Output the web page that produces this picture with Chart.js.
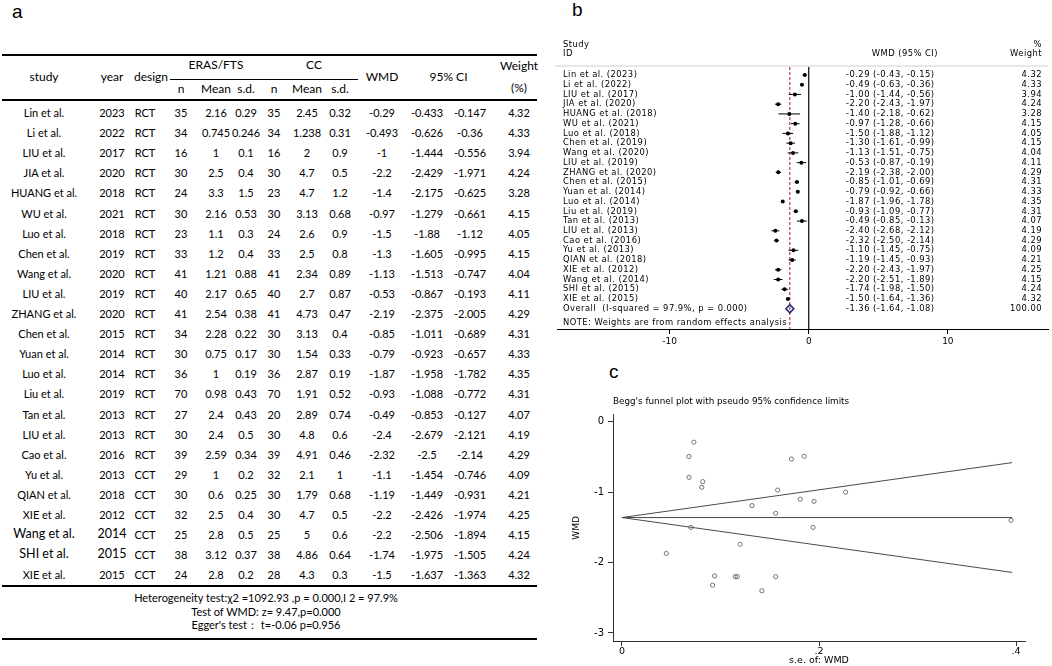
<!DOCTYPE html>
<html>
<head>
<meta charset="utf-8">
<title>ERAS/FTS vs CC meta-analysis</title>
<script src="https://cdn.jsdelivr.net/npm/chart.js@4.4.1/dist/chart.umd.min.js"></script>
<style>
  html, body { margin: 0; padding: 0; background: #fff; }
  #page { position: relative; width: 1052px; height: 666px; overflow: hidden; font-family: Lato, "Noto Sans", sans-serif; color: #000; }
  .panel-label { position: absolute; font-family: "Liberation Sans", Arial, sans-serif; font-size: 19px; line-height: 1; color: #000; }
  .cell { position: absolute; transform: translate(-50%, -50%); white-space: nowrap; font-size: 11px; line-height: 1; }
  .head { font-size: 12px; }
  .rule { position: absolute; background: #000; }
  #forest-chart { position: absolute; left: 540px; top: 0; }
  #funnel-chart { position: absolute; left: 540px; top: 360px; }
</style>
</head>
<body>
<div id="page">
  <div class="panel-label" style="left:12px; top:2px;">a</div>
  <div class="panel-label" style="left:572px; top:0px;">b</div>
  <div class="panel-label" style="left:609px; top:362px;">c</div>
  <div id="table-a"></div>
  <canvas id="forest-chart" width="512" height="352"></canvas>
  <canvas id="funnel-chart" width="512" height="306"></canvas>
</div>

<script>
// Table (a) data
const studies = ["Lin et al.", "Li et al.", "LIU et al.", "JIA et al.", "HUANG et al.", "WU et al.", "Luo et al.", "Chen et al.", "Wang et al.", "LIU et al.", "ZHANG et al.", "Chen et al.", "Yuan et al.", "Luo et al.", "Liu et al.", "Tan et al.", "LIU et al.", "Cao et al.", "Yu et al.", "QIAN et al.", "XIE et al.", "Wang et al.", "SHI et al.", "XIE et al."];
const years = [2023, 2022, 2017, 2020, 2018, 2021, 2018, 2019, 2020, 2019, 2020, 2015, 2014, 2014, 2019, 2013, 2013, 2016, 2013, 2018, 2012, 2014, 2015, 2015];
const designs = ["RCT", "RCT", "RCT", "RCT", "RCT", "RCT", "RCT", "RCT", "RCT", "RCT", "RCT", "RCT", "RCT", "RCT", "RCT", "RCT", "RCT", "RCT", "CCT", "CCT", "CCT", "CCT", "CCT", "CCT"];
const erasN = [35, 34, 16, 30, 24, 30, 23, 33, 41, 40, 41, 34, 30, 36, 70, 27, 30, 39, 29, 30, 32, 25, 38, 24];
const erasMean = [2.16, 0.745, 1, 2.5, 3.3, 2.16, 1.1, 1.2, 1.21, 2.17, 2.54, 2.28, 0.75, 1, 0.98, 2.4, 2.4, 2.59, 1, 0.6, 2.5, 2.8, 3.12, 2.8];
const erasSd = [0.29, 0.246, 0.1, 0.4, 1.5, 0.53, 0.3, 0.4, 0.88, 0.65, 0.38, 0.22, 0.17, 0.19, 0.43, 0.43, 0.5, 0.34, 0.2, 0.25, 0.4, 0.5, 0.37, 0.2];
const ccN = [35, 34, 16, 30, 23, 30, 24, 33, 41, 40, 41, 30, 30, 36, 70, 20, 30, 39, 32, 30, 30, 25, 38, 28];
const ccMean = [2.45, 1.238, 2, 4.7, 4.7, 3.13, 2.6, 2.5, 2.34, 2.7, 4.73, 3.13, 1.54, 2.87, 1.91, 2.89, 4.8, 4.91, 2.1, 1.79, 4.7, 5, 4.86, 4.3];
const ccSd = [0.32, 0.31, 0.9, 0.5, 1.2, 0.68, 0.9, 0.8, 0.89, 0.87, 0.47, 0.4, 0.33, 0.19, 0.52, 0.74, 0.6, 0.46, 1, 0.68, 0.5, 0.6, 0.64, 0.3];
const wmdValues = [-0.29, -0.493, -1, -2.2, -1.4, -0.97, -1.5, -1.3, -1.13, -0.53, -2.19, -0.85, -0.79, -1.87, -0.93, -0.49, -2.4, -2.32, -1.1, -1.19, -2.2, -2.2, -1.74, -1.5];
const ciLow = [-0.433, -0.626, -1.444, -2.429, -2.175, -1.279, -1.88, -1.605, -1.513, -0.867, -2.375, -1.011, -0.923, -1.958, -1.088, -0.853, -2.679, -2.5, -1.454, -1.449, -2.426, -2.506, -1.975, -1.637];
const ciHigh = [-0.147, -0.36, -0.556, -1.971, -0.625, -0.661, -1.12, -0.995, -0.747, -0.193, -2.005, -0.689, -0.657, -1.782, -0.772, -0.127, -2.121, -2.14, -0.746, -0.931, -1.974, -1.894, -1.505, -1.363];
const weights = [4.32, 4.33, 3.94, 4.24, 3.28, 4.15, 4.05, 4.15, 4.04, 4.11, 4.29, 4.31, 4.33, 4.35, 4.31, 4.07, 4.19, 4.29, 4.09, 4.21, 4.25, 4.15, 4.24, 4.32];
const footerLines = ["Heterogeneity test:χ2 =1092.93  ,p = 0.000,I 2 = 97.9%", "Test of WMD: z= 9.47,p=0.000", "Egger's test： t=-0.06  p=0.956"];

// Forest plot (b) data
const forestEst = [-0.29, -0.49, -1.00, -2.20, -1.40, -0.97, -1.50, -1.30, -1.13, -0.53, -2.19, -0.85, -0.79, -1.87, -0.93, -0.49, -2.40, -2.32, -1.10, -1.19, -2.20, -2.20, -1.74, -1.50];
const forestLow = [-0.43, -0.63, -1.44, -2.43, -2.18, -1.28, -1.88, -1.61, -1.51, -0.87, -2.38, -1.01, -0.92, -1.96, -1.09, -0.85, -2.68, -2.50, -1.45, -1.45, -2.43, -2.51, -1.98, -1.64];
const forestHigh = [-0.15, -0.36, -0.56, -1.97, -0.62, -0.66, -1.12, -0.99, -0.75, -0.19, -2.00, -0.69, -0.66, -1.78, -0.77, -0.13, -2.12, -2.14, -0.75, -0.93, -1.97, -1.89, -1.50, -1.36];
const overallEst = -1.36;
const overallLow = -1.64;
const overallHigh = -1.08;
const overallWeight = "100.00";
const forestTicks = [-10, 0, 10];

// Funnel plot (c) data
const seValues = [0.073, 0.068, 0.227, 0.117, 0.395, 0.158, 0.194, 0.156, 0.195, 0.172, 0.094, 0.082, 0.068, 0.045, 0.081, 0.185, 0.142, 0.092, 0.181, 0.132, 0.115, 0.156, 0.120, 0.070];
const limitSe = [0, 0.396];
const upperLimit = [-1.36, -0.58];
const lowerLimit = [-1.36, -2.14];
const pooledLine = [-1.36, -1.36];
const funnelXTicks = [0, 0.2, 0.4];
const funnelXLabels = ["0", ".2", ".4"];
const funnelYTicks = [0, -1, -2, -3];

const STATA_FONT = "'DejaVu Sans', Verdana, sans-serif";

// Table (a) built from absolutely placed text
function setupTable() {
  const host = document.getElementById("table-a");
  const colX = [44, 112, 145, 181, 216, 246, 274, 307, 340, 382, 427, 470, 519];
  const rowY0 = 112;
  const rowStep = 20.1;

  const addText = (text, x, y, cls, extra) => {
    const el = document.createElement("div");
    el.className = "cell " + (cls || "");
    el.textContent = text;
    el.style.left = x + "px";
    el.style.top = y + "px";
    if (extra) Object.assign(el.style, extra);
    host.appendChild(el);
  };
  const addRule = (x1, x2, y, h) => {
    const el = document.createElement("div");
    el.className = "rule";
    el.style.left = x1 + "px";
    el.style.width = x2 - x1 + "px";
    el.style.top = y - h / 2 + "px";
    el.style.height = h + "px";
    host.appendChild(el);
  };

  // header
  addRule(2, 537, 55, 2.5);
  addText("study", colX[0], 77, "head");
  addText("year", colX[1], 77, "head");
  addText("design", 151, 77, "head");
  addText("ERAS/FTS", colX[4], 65, "head");
  addText("CC", 314, 65, "head");
  addRule(170, 358, 79, 1);
  ["n", "Mean", "s.d.", "n", "Mean", "s.d."].forEach((t, k) => addText(t, colX[3 + k], 89, "head"));
  addText("WMD", colX[9], 77, "head");
  addText("95% CI", (colX[10] + colX[11]) / 2, 77, "head");
  addText("Weight", colX[12], 66, "head");
  addText("(%)", colX[12], 88, "head");
  addRule(2, 537, 100, 1.5);

  // body rows
  studies.forEach((name, i) => {
    const y = rowY0 + i * rowStep;
    const big = i === 21 || i === 22 ? { fontSize: "12.5px" } : null;
    const cells = [name, years[i], designs[i], erasN[i], erasMean[i], erasSd[i], ccN[i], ccMean[i], ccSd[i], wmdValues[i], ciLow[i], ciHigh[i], weights[i].toFixed(2)];
    cells.forEach((v, k) => addText(String(v), colX[k], y, "", k < 2 ? big : null));
  });

  addRule(2, 537, 586, 2);
  footerLines.forEach((t, k) => addText(t, 266, 597 + k * 13.5, ""));
  addRule(2, 537, 639, 2);
}

// Forest plot decorations: reference lines, CI whiskers, diamond and text columns
const forestDecor = {
  id: "forestDecor",
  beforeDatasetsDraw(chart) {
    const { ctx, chartArea, scales: { x } } = chart;
    const top = chartArea.top + 31;
    ctx.save();
    ctx.strokeStyle = "#000";
    ctx.lineWidth = 1.2;
    ctx.beginPath();
    ctx.moveTo(x.getPixelForValue(0), top);
    ctx.lineTo(x.getPixelForValue(0), chartArea.bottom);
    ctx.stroke();

    ctx.strokeStyle = "#a3162b";
    ctx.lineWidth = 1;
    ctx.setLineDash([3, 2]);
    ctx.beginPath();
    ctx.moveTo(x.getPixelForValue(overallEst), top);
    ctx.lineTo(x.getPixelForValue(overallEst), chartArea.bottom);
    ctx.stroke();
    ctx.restore();

    ctx.save();
    ctx.strokeStyle = "#000";
    ctx.lineWidth = 1;
    forestLow.forEach((lo, i) => {
      const py = chart.scales.y.getPixelForValue(i);
      ctx.beginPath();
      ctx.moveTo(x.getPixelForValue(lo), py);
      ctx.lineTo(x.getPixelForValue(forestHigh[i]), py);
      ctx.stroke();
    });
    ctx.restore();
  },
  afterDatasetsDraw(chart) {
    const { ctx, chartArea, scales: { x, y } } = chart;
    const n = forestEst.length;
    const labelX = chartArea.left + 6;
    const ciX = chartArea.left + 289;
    const ciRight = chartArea.left + 381;
    const wRight = chartArea.right - 6;

    // overall diamond
    const dy = y.getPixelForValue(n);
    ctx.save();
    ctx.strokeStyle = "#26267a";
    ctx.lineWidth = 1.6;
    ctx.beginPath();
    ctx.moveTo(x.getPixelForValue(overallLow), dy);
    ctx.lineTo(x.getPixelForValue(overallEst), dy - 4);
    ctx.lineTo(x.getPixelForValue(overallHigh), dy);
    ctx.lineTo(x.getPixelForValue(overallEst), dy + 4);
    ctx.closePath();
    ctx.stroke();
    ctx.restore();

    // header rule
    ctx.save();
    ctx.strokeStyle = "#cfcfcf";
    ctx.lineWidth = 1;
    ctx.beginPath();
    ctx.moveTo(chartArea.left - 2, chartArea.top + 30);
    ctx.lineTo(chartArea.right, chartArea.top + 30);
    ctx.stroke();
    ctx.restore();

    // text columns
    ctx.save();
    ctx.fillStyle = "#000";
    ctx.font = "8.4px " + STATA_FONT;
    if ("letterSpacing" in ctx) ctx.letterSpacing = "0.45px";
    ctx.textBaseline = "middle";

    ctx.textAlign = "left";
    ctx.fillText("Study", labelX, chartArea.top + 9);
    ctx.fillText("ID", labelX, chartArea.top + 18);
    ctx.textAlign = "right";
    ctx.fillText("WMD (95% CI)", ciRight, chartArea.top + 18);
    ctx.fillText("%", wRight, chartArea.top + 9);
    ctx.fillText("Weight", wRight, chartArea.top + 18);

    const ciText = (e, l, h) => e.toFixed(2) + " (" + l.toFixed(2) + ", " + h.toFixed(2) + ")";
    studies.forEach((name, i) => {
      const py = y.getPixelForValue(i);
      ctx.textAlign = "left";
      ctx.fillText(name + " (" + years[i] + ")", labelX, py);
      ctx.fillText(ciText(forestEst[i], forestLow[i], forestHigh[i]), ciX, py);
      ctx.textAlign = "right";
      ctx.fillText(weights[i].toFixed(2), wRight, py);
    });
    ctx.textAlign = "left";
    ctx.fillText("Overall  (I-squared = 97.9%, p = 0.000)", labelX, dy);
    ctx.fillText(ciText(overallEst, overallLow, overallHigh), ciX, dy);
    ctx.textAlign = "right";
    ctx.fillText(overallWeight, wRight, dy);
    ctx.textAlign = "left";
    ctx.fillText("NOTE: Weights are from random effects analysis", labelX, y.getPixelForValue(n + 1.4));
    ctx.restore();
  },
};

function setupForest() {
  const ctx = document.getElementById("forest-chart").getContext("2d");
  new Chart(ctx, {
    type: "scatter",
    data: {
      datasets: [
        {
          data: forestEst.map((v, i) => ({ x: v, y: i })),
          pointRadius: 2,
          pointStyle: "circle",
          backgroundColor: "#000",
          borderColor: "#000",
          borderWidth: 0,
        },
      ],
    },
    options: {
      responsive: false,
      animation: false,
      devicePixelRatio: 1,
      layout: { padding: { left: 17, right: 4, top: 36, bottom: 0 } },
      plugins: { legend: { display: false }, tooltip: { enabled: false } },
      scales: {
        x: {
          type: "linear",
          min: -18.1,
          max: 17.2,
          afterBuildTicks: (s) => { s.ticks = forestTicks.map((v) => ({ value: v })); },
          afterFit: (s) => { s.height = 23; },
          grid: { display: true, drawOnChartArea: false, drawTicks: true, tickLength: 5, color: "#000" },
          border: { display: true, color: "#000", width: 1 },
          ticks: { font: { family: STATA_FONT, size: 9 }, color: "#000", padding: 2, maxRotation: 0 },
        },
        y: { type: "linear", display: false, reverse: true, min: -4, max: 26.08 },
      },
    },
    plugins: [forestDecor],
  });
}

function setupFunnel() {
  const ctx = document.getElementById("funnel-chart").getContext("2d");
  const lineSet = (vals) => ({
    type: "scatter",
    showLine: true,
    data: limitSe.map((s, i) => ({ x: s, y: vals[i] })),
    borderColor: "#4a4a4a",
    borderWidth: 1,
    pointRadius: 0,
    fill: false,
  });

  new Chart(ctx, {
    type: "scatter",
    data: {
      datasets: [
        {
          data: seValues.map((s, i) => ({ x: s, y: wmdValues[i] })),
          pointRadius: 2.1,
          pointStyle: "circle",
          backgroundColor: "rgba(0,0,0,0)",
          borderColor: "#555",
          borderWidth: 0.8,
        },
        lineSet(upperLimit),
        lineSet(lowerLimit),
        lineSet(pooledLine),
      ],
    },
    options: {
      responsive: false,
      animation: false,
      devicePixelRatio: 1,
      layout: { padding: { left: 0, right: 27, top: 0, bottom: 0 } },
      plugins: {
        legend: { display: false },
        tooltip: { enabled: false },
        title: {
          display: true,
          text: "Begg's funnel plot with pseudo 95% confidence limits",
          align: "start",
          fullSize: false,
          color: "#000",
          font: { family: STATA_FONT, size: 8.8, weight: "normal" },
          padding: { top: 36.6, bottom: 7.6 },
        },
      },
      scales: {
        x: {
          type: "linear",
          min: -0.0091,
          max: 0.4091,
          afterBuildTicks: (s) => { s.ticks = funnelXTicks.map((v) => ({ value: v })); },
          afterFit: (s) => { s.height = 25; },
          grid: { display: true, drawOnChartArea: false, drawTicks: true, tickLength: 5, color: "#333" },
          border: { display: true, color: "#333", width: 1 },
          ticks: {
            font: { family: STATA_FONT, size: 9.5 },
            color: "#000",
            padding: 0,
            maxRotation: 0,
            callback: (v, idx) => funnelXLabels[idx],
          },
          title: { display: true, text: "s.e. of: WMD", font: { family: STATA_FONT, size: 9.5 }, color: "#000", padding: { top: 0, bottom: 0 } },
        },
        y: {
          type: "linear",
          min: -3.114,
          max: 0.1,
          afterBuildTicks: (s) => { s.ticks = funnelYTicks.map((v) => ({ value: v })); },
          afterFit: (s) => { s.width = 73; },
          grid: { display: true, drawOnChartArea: false, drawTicks: true, tickLength: 5, color: "#333" },
          border: { display: true, color: "#333", width: 1 },
          ticks: { font: { family: STATA_FONT, size: 10 }, color: "#000", padding: 4 },
          title: { display: true, text: "WMD", font: { family: STATA_FONT, size: 9 }, color: "#000", padding: { top: 31, bottom: 0 } },
        },
      },
    },
  });
}

document.addEventListener("DOMContentLoaded", () => {
  setupTable();
  setupForest();
  setupFunnel();
});
</script>
</body>
</html>
